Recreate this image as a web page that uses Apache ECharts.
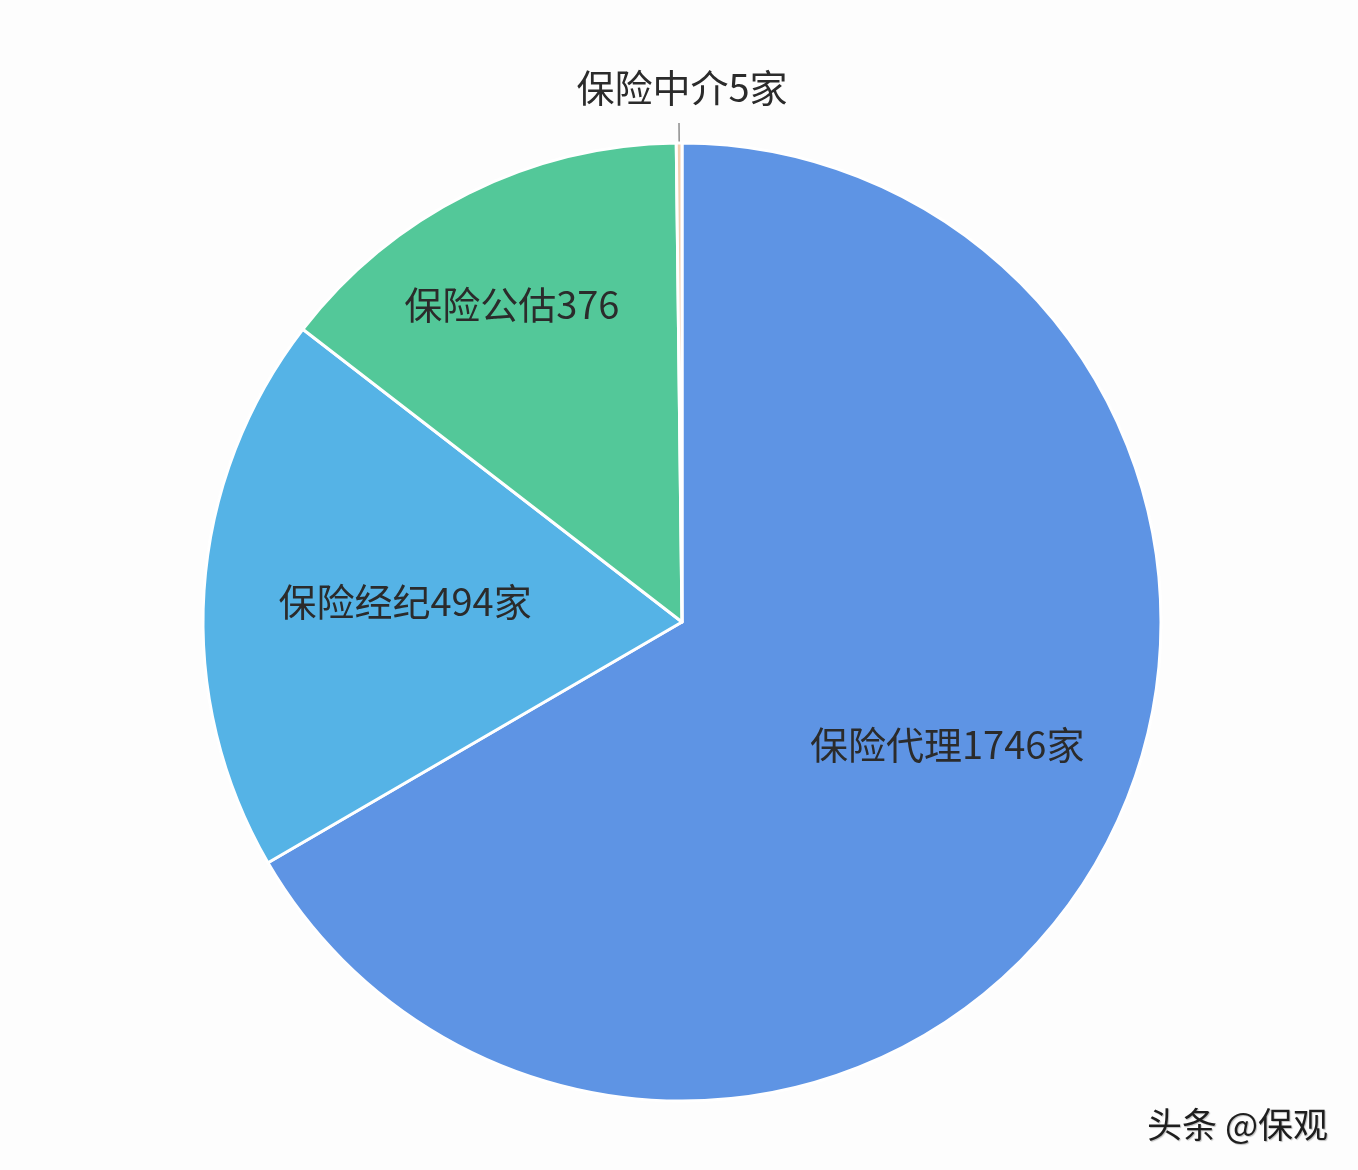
<!DOCTYPE html>
<html>
<head>
<meta charset="utf-8">
<script src="https://cdn.jsdelivr.net/npm/echarts@6/dist/echarts.min.js"></script>
<style>
html,body{margin:0;padding:0;background:#fdfdfd;}
#chart{width:1358px;height:1170px;}
</style>
</head>
<body>
<div id="chart"></div>
<script>
// Data
const categories = ['保险代理', '保险经纪', '保险公估', '保险中介'];
const values = [1746, 494, 376, 5];
const labelTexts = ['保险代理1746家', '保险经纪494家', '保险公估376', '保险中介5家'];

// Styles (kept separate from data)
const colors = ['#5e94e4', '#55b3e6', '#53c899', '#f2cfae'];
const labelShift = [[55, 2], [-35, -5], [-62, -100], [0, 0]];

const chart = echarts.init(document.getElementById('chart'));
const seriesData = categories.map((c, i) => ({
  name: c,
  value: values[i],
  itemStyle: { color: colors[i] },
  label: i === 3 ? {
    position: 'outside',
    formatter: labelTexts[i]
  } : {
    position: 'inside',
    formatter: labelTexts[i]
  },
  labelLine: i === 3 ? { show: true, length: 20, length2: 0, lineStyle: { color: '#555', width: 1 } } : { show: false }
}));

chart.setOption({
  backgroundColor: '#fdfdfd',
  animation: false,
  series: [{
    type: 'pie',
    center: [682, 622],
    radius: [0, 479],
    startAngle: 90,
    clockwise: true,
    avoidLabelOverlap: false,
    itemStyle: { borderColor: '#ffffff', borderWidth: 3 },
    label: {
      color: '#2b2b2b',
      fontSize: 38,
      fontFamily: 'Noto Sans CJK SC'
    },
    labelLayout: function (params) {
      const i = params.dataIndex;
      if (i === 3) {
        return { align: 'center', verticalAlign: 'bottom', dy: -16, dx: 8 };
      }
      return { dx: labelShift[i][0], dy: labelShift[i][1] };
    },
    data: seriesData
  }],
  graphic: [{
    type: 'text',
    right: 30,
    bottom: 28,
    style: {
      text: '头条 @保观',
      fontSize: 35,
      fontFamily: 'Noto Sans CJK SC',
      fill: '#1e1e1e',
      textShadowColor: 'rgba(0,0,0,0.25)',
      textShadowBlur: 1,
      textShadowOffsetX: 1,
      textShadowOffsetY: 1
    }
  }]
});
</script>
</body>
</html>
